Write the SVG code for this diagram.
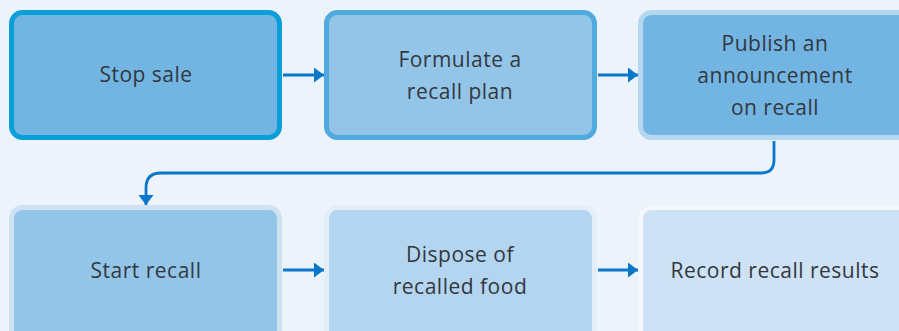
<svg xmlns="http://www.w3.org/2000/svg" width="899" height="331" viewBox="0 0 899 331">
<defs>
<style>
.t{font-family:"Open Sans","Noto Sans",sans-serif;font-size:21px;letter-spacing:0.5px;fill:#333740;text-anchor:middle}
.c{fill:none;stroke:#0a77c9;stroke-width:2.8}
</style>
<marker id="ah" viewBox="0 0 10 15" refX="10" refY="7.5" markerWidth="10" markerHeight="15" markerUnits="userSpaceOnUse" orient="auto">
<path d="M0,0 L10,7.5 L0,15 Z" fill="#0a77c9"/>
</marker>
</defs>
<rect width="899" height="331" fill="#edf3fb"/>
<g id="n1">
<rect x="11.5" y="12.5" width="268" height="125" rx="11" fill="#72b5e2" stroke="#0a9fd9" stroke-width="5"/>
<text class="t" x="146" y="82">Stop sale</text>
</g>
<g id="n2">
<rect x="326.5" y="12.5" width="268" height="125" rx="11" fill="#93c5e8" stroke="#4eaadf" stroke-width="5"/>
<text class="t" x="460" y="67">Formulate a</text>
<text class="t" x="460" y="99">recall plan</text>
</g>
<g id="n3">
<rect x="640.5" y="12.5" width="268" height="125" rx="11" fill="#72b5e2" stroke="#b6d7f0" stroke-width="5"/>
<text class="t" x="775" y="51">Publish an</text>
<text class="t" x="775" y="83">announcement</text>
<text class="t" x="775" y="115">on recall</text>
</g>
<g id="n4">
<rect x="11.5" y="207.5" width="268" height="135" rx="11" fill="#93c5e8" stroke="#cee2f4" stroke-width="5"/>
<text class="t" x="146" y="278">Start recall</text>
</g>
<g id="n5">
<rect x="326.5" y="207.5" width="268" height="135" rx="11" fill="#b3d5ef" stroke="#e4eef9" stroke-width="5"/>
<text class="t" x="460" y="262">Dispose of</text>
<text class="t" x="460" y="294">recalled food</text>
</g>
<g id="n6">
<rect x="640.5" y="207.5" width="268" height="135" rx="11" fill="#cde2f4" stroke="#f4f8fd" stroke-width="5"/>
<text class="t" x="775" y="278">Record recall results</text>
</g>
<g id="connectors">
<line class="c" x1="283" y1="75" x2="324" y2="75" marker-end="url(#ah)"/>
<line class="c" x1="598" y1="75" x2="638" y2="75" marker-end="url(#ah)"/>
<path class="c" d="M774,141 V160 Q774,173 761,173 H161 Q146,173 146,188 V205" marker-end="url(#ah)"/>
<line class="c" x1="283" y1="270" x2="324" y2="270" marker-end="url(#ah)"/>
<line class="c" x1="598" y1="270" x2="638" y2="270" marker-end="url(#ah)"/>
</g>
</svg>
